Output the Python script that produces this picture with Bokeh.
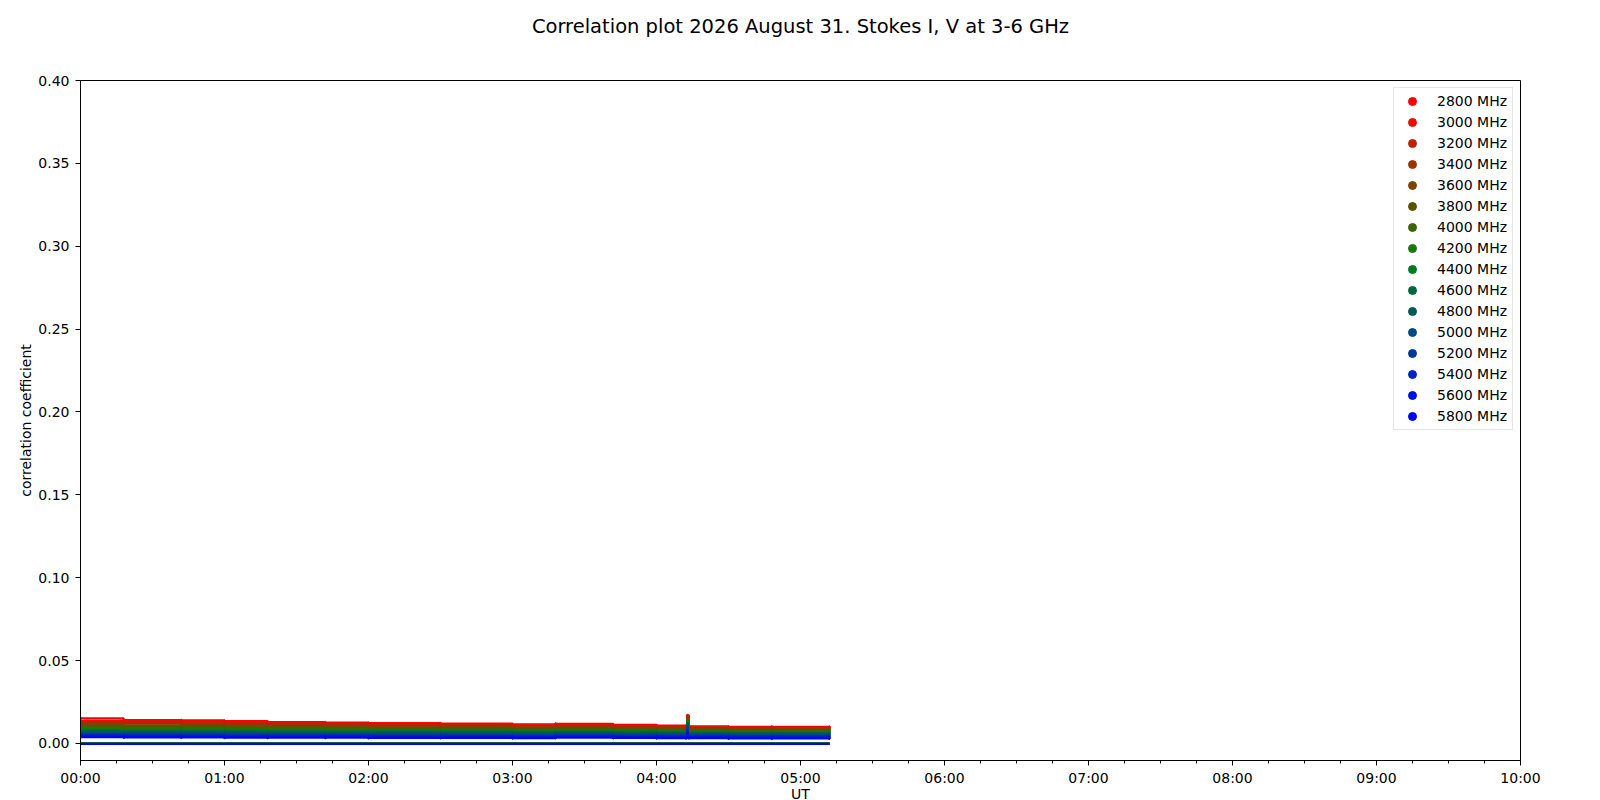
from bokeh.plotting import figure
from bokeh.models import FixedTicker, Range1d, Legend, LegendItem, Title
from bokeh.embed import file_html
from bokeh.resources import INLINE

FREQS = [2800, 3000, 3200, 3400, 3600, 3800, 4000, 4200, 4400, 4600, 4800, 5000, 5200, 5400, 5600, 5800]
COLORS = ["#ff0000", "#e60f00", "#be2200", "#9c3300", "#7a4500", "#5a5400", "#3c6400", "#1a7808",
          "#007a22", "#006640", "#005858", "#004a80", "#003898", "#0022c0", "#0010e2", "#0000ff"]

# time in hours UT
T = [0.00, 0.30, 0.70, 1.00, 1.30, 1.70, 2.00, 2.50, 3.00, 3.30, 3.70, 4.00, 4.205, 4.215, 4.225, 4.50, 4.80, 5.20]

I_2800 = [0.0152, 0.0141, 0.0140, 0.0136, 0.0130, 0.0127, 0.0123, 0.0121, 0.0115, 0.0119, 0.0113, 0.0108, 0.0106, 0.0170, 0.0104, 0.0100, 0.0101, 0.0100]
I_3000 = [0.0138, 0.0133, 0.0131, 0.0128, 0.0123, 0.0120, 0.0117, 0.0115, 0.0110, 0.0113, 0.0108, 0.0103, 0.0101, 0.0165, 0.0099, 0.0096, 0.0097, 0.0096]
I_3200 = [0.0130, 0.0126, 0.0124, 0.0121, 0.0117, 0.0114, 0.0111, 0.0109, 0.0105, 0.0107, 0.0103, 0.0099, 0.0097, 0.0160, 0.0095, 0.0092, 0.0092, 0.0092]
I_3400 = [0.0122, 0.0118, 0.0117, 0.0114, 0.0110, 0.0108, 0.0105, 0.0103, 0.0099, 0.0101, 0.0097, 0.0094, 0.0092, 0.0155, 0.0090, 0.0088, 0.0088, 0.0088]
I_3600 = [0.0113, 0.0110, 0.0109, 0.0107, 0.0103, 0.0101, 0.0098, 0.0097, 0.0093, 0.0095, 0.0091, 0.0089, 0.0087, 0.0150, 0.0085, 0.0083, 0.0083, 0.0083]
I_3800 = [0.0105, 0.0102, 0.0101, 0.0099, 0.0096, 0.0094, 0.0092, 0.0091, 0.0087, 0.0089, 0.0086, 0.0084, 0.0082, 0.0145, 0.0081, 0.0079, 0.0079, 0.0079]
I_4000 = [0.0097, 0.0095, 0.0094, 0.0092, 0.0090, 0.0088, 0.0086, 0.0085, 0.0082, 0.0084, 0.0081, 0.0079, 0.0078, 0.0140, 0.0077, 0.0075, 0.0075, 0.0075]
I_4200 = [0.0090, 0.0088, 0.0087, 0.0086, 0.0084, 0.0082, 0.0080, 0.0080, 0.0077, 0.0079, 0.0076, 0.0075, 0.0074, 0.0135, 0.0073, 0.0071, 0.0071, 0.0071]
I_4400 = [0.0083, 0.0081, 0.0081, 0.0080, 0.0078, 0.0077, 0.0075, 0.0075, 0.0072, 0.0074, 0.0072, 0.0070, 0.0069, 0.0130, 0.0069, 0.0067, 0.0067, 0.0067]
I_4600 = [0.0076, 0.0075, 0.0075, 0.0074, 0.0072, 0.0071, 0.0070, 0.0070, 0.0067, 0.0069, 0.0067, 0.0066, 0.0065, 0.0120, 0.0065, 0.0063, 0.0063, 0.0063]
I_4800 = [0.0069, 0.0068, 0.0068, 0.0067, 0.0066, 0.0065, 0.0064, 0.0064, 0.0062, 0.0064, 0.0062, 0.0061, 0.0060, 0.0110, 0.0060, 0.0058, 0.0058, 0.0058]
I_5000 = [0.0062, 0.0061, 0.0061, 0.0060, 0.0059, 0.0058, 0.0058, 0.0058, 0.0056, 0.0058, 0.0056, 0.0055, 0.0055, 0.0100, 0.0055, 0.0053, 0.0053, 0.0053]
I_5200 = [0.0055, 0.0054, 0.0054, 0.0053, 0.0052, 0.0052, 0.0051, 0.0051, 0.0050, 0.0052, 0.0050, 0.0049, 0.0049, 0.0090, 0.0049, 0.0047, 0.0047, 0.0047]
I_5400 = [0.0049, 0.0048, 0.0048, 0.0047, 0.0046, 0.0046, 0.0045, 0.0045, 0.0044, 0.0046, 0.0044, 0.0044, 0.0044, 0.0080, 0.0044, 0.0042, 0.0042, 0.0042]
I_5600 = [0.0043, 0.0042, 0.0042, 0.0041, 0.0040, 0.0040, 0.0039, 0.0039, 0.0038, 0.0040, 0.0039, 0.0038, 0.0038, 0.0070, 0.0038, 0.0036, 0.0036, 0.0036]
I_5800 = [0.0037, 0.0036, 0.0036, 0.0035, 0.0034, 0.0034, 0.0033, 0.0033, 0.0032, 0.0034, 0.0033, 0.0032, 0.0032, 0.0060, 0.0032, 0.0030, 0.0030, 0.0030]

STOKES_I = [I_2800, I_3000, I_3200, I_3400, I_3600, I_3800, I_4000, I_4200,
            I_4400, I_4600, I_4800, I_5000, I_5200, I_5400, I_5600, I_5800]

# Stokes V levels (near zero) per frequency
V_LEVEL = [0.0001, 0.0001, 0.0000, 0.0000, 0.0000, -0.0001, -0.0001, -0.0001,
           -0.0002, -0.0002, -0.0002, -0.0002, -0.0003, -0.0003, -0.0003, -0.0003]

YTICKS = [0.00, 0.05, 0.10, 0.15, 0.20, 0.25, 0.30, 0.35, 0.40]
XTICKS = [0, 1, 2, 3, 4, 5, 6, 7, 8, 9, 10]
XLABELS = ["00:00", "01:00", "02:00", "03:00", "04:00", "05:00", "06:00", "07:00", "08:00", "09:00", "10:00"]
XMINOR = [i * 0.25 for i in range(41)]

FONT = "DejaVu Sans"
TITLE = "Correlation plot 2026 August 31. Stokes I, V at 3-6 GHz"

p = figure(width=1600, height=800, output_backend="svg", toolbar_location=None,
           x_range=Range1d(0, 10), y_range=Range1d(-0.0103, 0.40),
           min_border_left=80, min_border_right=80, min_border_top=80, min_border_bottom=40)
p.title = None

# spacer (nearest the frame) then the main title above it
p.add_layout(Title(text=" ", text_font_size="1px", standoff=35), "above")
p.add_layout(Title(text=TITLE, align="center", text_font=FONT, text_font_size="19.5px",
                   text_font_style="normal", text_color="black", standoff=10), "above")

p.xgrid.visible = False
p.ygrid.visible = False
p.outline_line_color = "black"
p.outline_line_width = 1
p.outline_line_alpha = 1
p.background_fill_color = "white"

for ax in (p.xaxis[0], p.yaxis[0]):
    ax.axis_line_color = "black"
    ax.major_tick_line_color = "black"
    ax.minor_tick_line_color = "black"
    ax.major_tick_out = 5
    ax.major_tick_in = 0
    ax.major_label_text_font = FONT
    ax.major_label_text_font_size = "14px"
    ax.major_label_text_color = "black"
    ax.axis_label_text_font = FONT
    ax.axis_label_text_font_size = "14px"
    ax.axis_label_text_font_style = "normal"
    ax.axis_label_text_color = "black"

p.xaxis[0].ticker = FixedTicker(ticks=XTICKS, minor_ticks=XMINOR)
p.xaxis[0].major_label_overrides = {t: lab for t, lab in zip(XTICKS, XLABELS)}
p.xaxis[0].minor_tick_out = 3
p.xaxis[0].minor_tick_in = 0
p.xaxis[0].major_label_standoff = 4

# x-axis label "UT" placed as a centred caption below the axis
p.add_layout(Title(text="UT", align="center", text_font=FONT, text_font_size="14px",
                   text_font_style="normal", text_color="black", standoff=-10), "below")

p.yaxis[0].ticker = FixedTicker(ticks=YTICKS, minor_ticks=[])
p.yaxis[0].major_label_overrides = {t: "%.2f" % t for t in YTICKS}
p.yaxis[0].major_label_standoff = 6
p.yaxis[0].axis_label = "correlation coefficient"
p.yaxis[0].axis_label_standoff = 1

# Stokes I
for vals, col in zip(STOKES_I, COLORS):
    p.step(T, vals, mode="after", line_color=col, line_width=2)

# Stokes V
for lvl, col in zip(V_LEVEL, COLORS):
    p.step(T, [lvl] * len(T), mode="after", line_color=col, line_width=2)

# sample points of Stokes I (also give the legend its circle markers)
items = []
for f, col, vals in zip(FREQS, COLORS, STOKES_I):
    r = p.scatter(T, vals, marker="circle", size=2, fill_color=col, line_color=col)
    items.append(LegendItem(label="%d MHz" % f, renderers=[r]))

leg = Legend(items=items, location="top_right")
leg.margin = 7
leg.padding = 3
leg.spacing = 1
leg.glyph_width = 30
leg.glyph_height = 20
leg.label_height = 20
leg.label_width = 72
leg.label_standoff = 10
leg.label_text_font = FONT
leg.label_text_font_size = "14px"
leg.label_text_color = "black"
leg.border_line_color = "#cccccc"
leg.border_line_width = 1
leg.background_fill_alpha = 0.8
p.add_layout(leg, "center")

open("out.html", "w").write(file_html(p, INLINE))
